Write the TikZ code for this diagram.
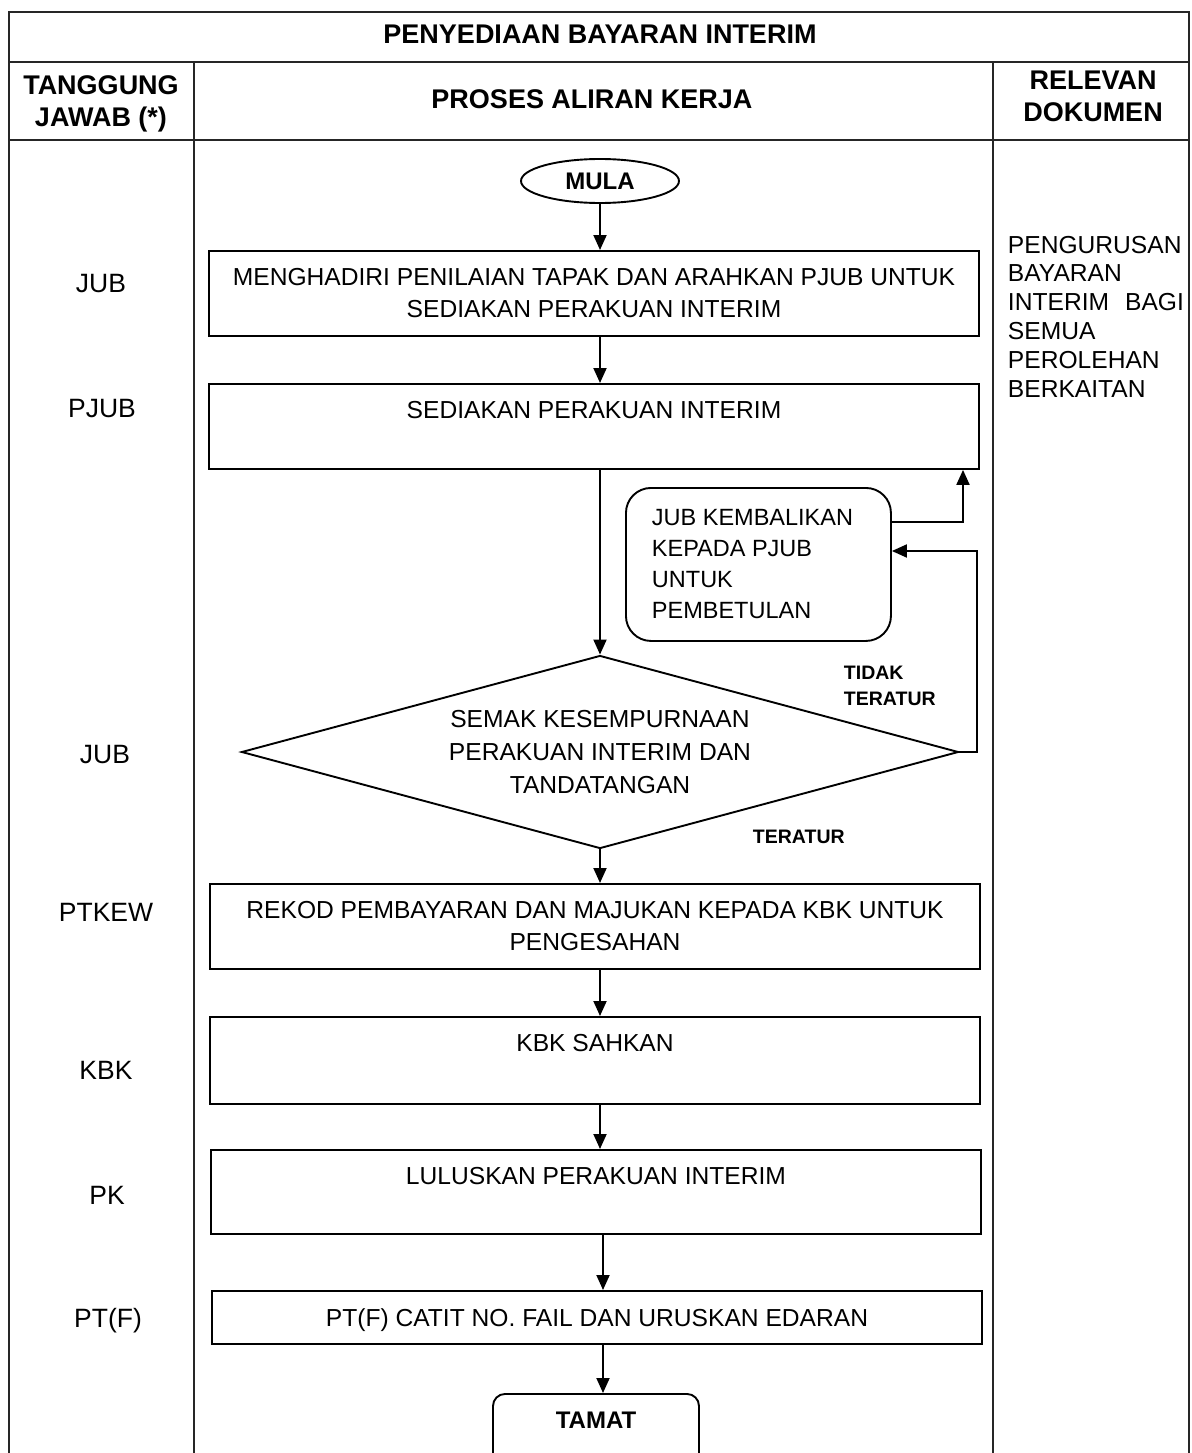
\documentclass[tikz,border=0pt]{standalone}
\usepackage{fontspec}
\setmainfont{Liberation Sans}
\usetikzlibrary{shapes.geometric,arrows.meta,calc}

\begin{document}
\begin{tikzpicture}[x=1pt,y=-1pt,line width=1.9pt,
  tbl/.style={draw=black!85,line width=1.9pt},
  hdr/.style={inner sep=0pt,align=center,font=\bfseries\fontsize{27}{32}\selectfont},
  who/.style={inner sep=0pt,font=\fontsize{26.5}{30}\selectfont},
  procbox/.style={draw,minimum width=770pt,minimum height=85pt,inner sep=0pt,anchor=north},
  boxtext/.style={anchor=north,inner sep=0pt,align=center,font=\fontsize{24.6}{32}\selectfont},
  decision/.style={diamond,draw,shape aspect=3.715,minimum width=717pt,minimum height=193pt,
    inner sep=0pt,align=center,font=\fontsize{24.6}{33}\selectfont},
  flag/.style={inner sep=0pt,align=left,font=\bfseries\fontsize{19.5}{26}\selectfont},
  arr/.style={-{Triangle[length=15pt,width=13pt]}}]

\useasboundingbox (0,0) rectangle (1191,1453);

% table frame
\draw[tbl] (9,12) rectangle (1189,1480);
\draw[tbl] (9,62) -- (1189,62);
\draw[tbl] (9,140) -- (1189,140);
\draw[tbl] (194,62) -- (194,1480);
\draw[tbl] (993,62) -- (993,1480);

% headings
\node[hdr] (title) at (600,34) {PENYEDIAAN BAYARAN INTERIM};
\node[hdr] (hwho) at (101,104) {TANGGUNG\\JAWAB (*)};
\node[hdr] (hflow) at (592,99) {PROSES ALIRAN KERJA};
\node[hdr] (hdoc) at (1093,96) {RELEVAN\\DOKUMEN};

% responsibility column
\node[who] (w1) at (101,284) {JUB};
\node[who] (w2) at (102,409) {PJUB};
\node[who] (w3) at (105,755) {JUB};
\node[who] (w4) at (106,912) {PTKEW};
\node[who] (w5) at (106,1070) {KBK};
\node[who] (w6) at (107,1195) {PK};
\node[who] (w7) at (108,1321) {PT(F)};

% documents column
\node[anchor=north west,inner sep=0pt,align=left,text width=176pt,
  font=\fontsize{24.6}{28.8}\selectfont] (doc) at (1007,235)
  {PENGURUSAN\\BAYARAN\\INTERIM\hfill BAGI\\SEMUA\\PEROLEHAN\\BERKAITAN};

% workflow
\node[draw,ellipse,minimum width=158pt,minimum height=44pt,inner sep=0pt,
  font=\bfseries\fontsize{24}{28}\selectfont] (start) at (600,181) {MULA};

\node[procbox] (b1) at (594,250) {};
\node[boxtext] (b1t) at ($(b1.north)+(0,17.5)$)
  {MENGHADIRI PENILAIAN TAPAK DAN ARAHKAN PJUB UNTUK\\SEDIAKAN PERAKUAN INTERIM};

\node[procbox] (b2) at (594,383) {};
\node[boxtext] (b2t) at ($(b2.north)+(0,17.5)$) {SEDIAKAN PERAKUAN INTERIM};

\node[draw,rounded corners=25pt,minimum width=265pt,minimum height=153pt,
  inner sep=0pt,anchor=north west] (rb) at (625,487) {};
\node[anchor=north west,inner sep=0pt,align=left,font=\fontsize{23.5}{31}\selectfont]
  (rbt) at ($(rb.north west)+(26,21.5)$) {JUB KEMBALIKAN\\KEPADA PJUB\\UNTUK\\PEMBETULAN};

\node[decision] (d) at (600,752) {SEMAK KESEMPURNAAN\\PERAKUAN INTERIM DAN\\TANDATANGAN};

\node[flag,anchor=north west] (no) at (843,665) {TIDAK\\TERATUR};
\node[flag,anchor=west] (yes) at (752,837) {TERATUR};

\node[procbox] (b3) at (595,883) {};
\node[boxtext] (b3t) at ($(b3.north)+(0,17.5)$)
  {REKOD PEMBAYARAN DAN MAJUKAN KEPADA KBK UNTUK\\PENGESAHAN};

\node[procbox,minimum height=87pt] (b4) at (595,1016) {};
\node[boxtext] (b4t) at ($(b4.north)+(0,17.5)$) {KBK SAHKAN};

\node[procbox,minimum height=84pt] (b5) at (596,1149) {};
\node[boxtext] (b5t) at ($(b5.north)+(0,17)$) {LULUSKAN PERAKUAN INTERIM};

\node[procbox,minimum height=53pt] (b6) at (597,1290) {};
\node[boxtext] (b6t) at ($(b6.north)+(0,17.5)$) {PT(F) CATIT NO. FAIL DAN URUSKAN EDARAN};

\node[draw,rounded corners=12pt,minimum width=206pt,minimum height=90pt,
  inner sep=0pt,anchor=north] (end) at (596,1393) {};
\node[inner sep=0pt,font=\bfseries\fontsize{24}{28}\selectfont] (endt) at (596,1420) {TAMAT};

% connectors
\coordinate (rx) at (963,0);
\coordinate (ox) at (977,0);
\draw[arr] (start.south) -- (start.south |- b1.north);
\draw[arr] (b1.south -| d.center) -- (b2.north -| d.center);
\draw[arr] (b2.south -| d.center) -- (d.north);
\draw[arr] ($(rb.north east)+(0,35)$) -| (b2.south -| rx);
\draw[arr] (d.east) -- (d.east -| ox) |- ($(rb.north east)+(0,64)$);
\draw[arr] (d.south) -- (d.south |- b3.north);
\draw[arr] (b3.south -| d.center) -- (b4.north -| d.center);
\draw[arr] (b4.south -| d.center) -- (b5.north -| d.center);
\draw[arr] ($(b5.south -| d.center)+(3,0)$) -- ($(b6.north -| d.center)+(3,0)$);
\draw[arr] ($(b6.south -| d.center)+(3,0)$) -- ($(end.north -| d.center)+(3,0)$);

\end{tikzpicture}
\end{document}
